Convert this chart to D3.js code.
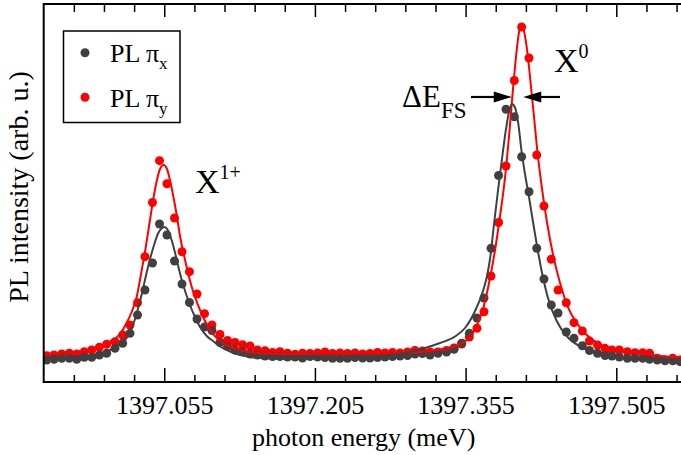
<!DOCTYPE html>
<html>
<head>
<meta charset="utf-8">
<script src="https://cdn.jsdelivr.net/npm/d3@7"></script>
<style>
  html, body { margin: 0; padding: 0; background: #fff; }
  svg { display: block; font-family: "Liberation Serif", "Times New Roman", serif; }
</style>
</head>
<body>
<svg id="chart" width="681" height="455"></svg>
<script>
// Photon energy of each spectrometer channel (meV)
const energy = [
  1396.9380, 1396.9453, 1396.9529, 1396.9605, 1396.9679, 1396.9754, 1396.9828, 1396.9904, 1396.9977, 1397.0060,
  1397.0136, 1397.0209, 1397.0284, 1397.0358, 1397.0433, 1397.0503, 1397.0577, 1397.0652, 1397.0727, 1397.0801,
  1397.0876, 1397.0951, 1397.1025, 1397.1105, 1397.1180, 1397.1254, 1397.1329, 1397.1404, 1397.1478, 1397.1553,
  1397.1628, 1397.1702, 1397.1777, 1397.1852, 1397.1926, 1397.2001, 1397.2076, 1397.2150, 1397.2225, 1397.2300,
  1397.2374, 1397.2449, 1397.2524, 1397.2598, 1397.2673, 1397.2748, 1397.2822, 1397.2897, 1397.2972, 1397.3046,
  1397.3121, 1397.3196, 1397.3275, 1397.3360, 1397.3435, 1397.3511, 1397.3587, 1397.3663, 1397.3733, 1397.3803,
  1397.3878, 1397.3952, 1397.4035, 1397.4108, 1397.4181, 1397.4258, 1397.4330, 1397.4403, 1397.4470, 1397.4552,
  1397.4629, 1397.4712, 1397.4783, 1397.4863, 1397.4938, 1397.5007, 1397.5080, 1397.5160, 1397.5236, 1397.5313,
  1397.5381, 1397.5458, 1397.5535, 1397.5612, 1397.5684
];

// PL intensity, pi_x polarisation (arb. u.)
const intensityPiX = [
  7.33, 7.57, 7.90, 7.90, 7.57, 8.23, 8.23, 9.00, 9.57, 11.23,
  12.90, 16.23, 22.33, 30.67, 39.67, 52.67, 49.00, 40.33, 32.67, 26.50,
  21.00, 18.33, 17.17, 13.17, 11.77, 10.67, 10.17, 9.33, 9.00, 8.67,
  8.50, 8.50, 8.33, 8.33, 8.00, 8.50, 8.33, 8.17, 7.90, 7.90,
  7.90, 8.17, 8.00, 8.00, 8.17, 8.33, 8.50, 8.67, 8.83, 9.33,
  9.50, 9.00, 9.57, 10.00, 10.90, 12.90, 16.23, 21.33, 28.00, 44.57,
  68.83, 90.90, 88.43, 75.10, 63.43, 44.57, 34.33, 25.67, 23.00, 16.67,
  14.57, 12.07, 10.50, 9.57, 8.83, 8.67, 8.33, 7.90, 7.90, 7.90,
  7.57, 7.33, 7.10, 7.10, 6.77
];

// PL intensity, pi_y polarisation (arb. u.)
const intensityPiY = [
  8.77, 9.00, 9.33, 9.57, 9.33, 10.10, 10.67, 11.57, 12.57, 13.43,
  15.67, 19.00, 26.43, 41.77, 59.83, 73.77, 66.10, 54.67, 43.43, 36.77,
  29.33, 22.77, 19.00, 15.83, 13.83, 13.17, 12.43, 12.00, 10.67, 10.43,
  9.83, 10.10, 9.57, 9.23, 9.57, 9.50, 9.67, 10.00, 9.50, 9.67,
  9.50, 9.67, 9.33, 9.50, 9.83, 9.67, 9.83, 9.67, 10.00, 10.50,
  10.33, 10.00, 10.00, 10.50, 11.33, 12.67, 15.00, 17.90, 23.43, 35.33,
  53.17, 72.00, 100.50, 118.33, 108.00, 75.67, 58.67, 40.90, 30.67, 26.43,
  19.77, 17.00, 13.67, 12.33, 11.23, 10.67, 10.67, 10.10, 9.77, 9.77,
  9.57, 7.90, 7.33, 7.90, 7.33
];

// Fitted line shape, pi_x
const fitPiXEnergy = [
  1396.9350, 1396.9612, 1396.9861, 1397.0010, 1397.0110, 1397.0189, 1397.0239, 1397.0276, 1397.0319, 1397.0358,
  1397.0393, 1397.0425, 1397.0458, 1397.0491, 1397.0523, 1397.0553, 1397.0582, 1397.0617, 1397.0652, 1397.0690,
  1397.0727, 1397.0767, 1397.0806, 1397.0856, 1397.0906, 1397.0973, 1397.1035, 1397.1105, 1397.1205, 1397.1304,
  1397.1503, 1397.1802, 1397.2200, 1397.2598, 1397.2897, 1397.3096, 1397.3295, 1397.3445, 1397.3544, 1397.3644,
  1397.3723, 1397.3763, 1397.3793, 1397.3833, 1397.3873, 1397.3912, 1397.3952, 1397.3982, 1397.4012, 1397.4042,
  1397.4072, 1397.4108, 1397.4141, 1397.4181, 1397.4221, 1397.4261, 1397.4311, 1397.4370, 1397.4457, 1397.4556,
  1397.4689, 1397.4858, 1397.5057, 1397.5386, 1397.5714
];
const fitPiXIntensity = [
  7.83, 8.17, 9.00, 10.67, 12.50, 15.33, 19.00, 22.90, 28.33, 34.00,
  39.00, 43.00, 46.67, 49.67, 51.17, 51.67, 50.83, 48.00, 43.83, 38.50,
  33.67, 29.33, 25.67, 21.67, 18.33, 15.33, 13.67, 11.83, 10.17, 9.00,
  8.00, 7.67, 7.83, 8.33, 9.33, 10.83, 13.00, 15.17, 18.00, 23.67,
  30.33, 35.33, 41.00, 52.67, 64.00, 74.33, 84.33, 90.00, 92.67, 91.50,
  86.67, 76.67, 69.33, 61.67, 53.33, 45.33, 36.33, 28.00, 20.33, 15.33,
  11.83, 9.67, 8.33, 7.57, 7.17
];

// Fitted line shape, pi_y
const fitPiYEnergy = [
  1396.9350, 1396.9612, 1396.9861, 1397.0010, 1397.0110, 1397.0159, 1397.0226, 1397.0276, 1397.0326, 1397.0358,
  1397.0408, 1397.0441, 1397.0475, 1397.0508, 1397.0543, 1397.0577, 1397.0607, 1397.0634, 1397.0674, 1397.0707,
  1397.0757, 1397.0823, 1397.0906, 1397.1006, 1397.1138, 1397.1304, 1397.1473, 1397.1802, 1397.2200, 1397.2698,
  1397.3096, 1397.3295, 1397.3445, 1397.3561, 1397.3644, 1397.3726, 1397.3793, 1397.3843, 1397.3893, 1397.3942,
  1397.3985, 1397.4025, 1397.4059, 1397.4082, 1397.4108, 1397.4131, 1397.4158, 1397.4181, 1397.4208, 1397.4231,
  1397.4261, 1397.4308, 1397.4363, 1397.4423, 1397.4490, 1397.4572, 1397.4656, 1397.4756, 1397.4888, 1397.5054,
  1397.5253, 1397.5485, 1397.5714
];
const fitPiYIntensity = [
  9.33, 9.83, 11.33, 13.50, 16.00, 18.67, 23.33, 28.43, 37.33, 43.33,
  54.00, 61.00, 67.00, 71.00, 72.33, 71.00, 67.33, 63.00, 55.67, 48.67,
  40.67, 31.77, 24.00, 17.33, 12.90, 10.67, 9.67, 9.33, 9.50, 9.50,
  10.00, 10.83, 12.00, 14.00, 17.67, 24.67, 34.67, 44.00, 55.33, 68.00,
  83.00, 99.00, 110.67, 116.67, 119.00, 117.00, 111.67, 105.00, 96.00, 88.33,
  78.00, 65.00, 52.67, 42.00, 33.00, 24.67, 19.67, 15.67, 12.50, 10.67,
  9.57, 8.67, 8.17
];

// Peak energies of the neutral exciton in the two polarisations (from the fits)
const x0PeakEnergy = [1397.4012, 1397.4108];

// Axis ticks
const majorTicks = [1397.055, 1397.205, 1397.355, 1397.505];
const majorTickLabels = ["1397.055", "1397.205", "1397.355", "1397.505"];
const minorTicks = [1396.965, 1396.995, 1397.025, 1397.085, 1397.115, 1397.145, 1397.175,
                    1397.235, 1397.265, 1397.295, 1397.325, 1397.385, 1397.415, 1397.445,
                    1397.475, 1397.535, 1397.565];

const series = [
  { sub: "x", values: intensityPiX, fitE: fitPiXEnergy, fitI: fitPiXIntensity, color: "#404040" },
  { sub: "y", values: intensityPiY, fitE: fitPiYEnergy, fitI: fitPiYIntensity, color: "#ff0000" }
];

const svg = d3.select("#chart");
const plotLeft = 43.7, plotRight = 683.6, plotTop = 4, plotBottom = 382;

const x = d3.scaleLinear().domain([1396.935, 1397.572]).range([plotLeft, plotRight]);
const y = d3.scaleLinear().domain([0, 126]).range([plotBottom, plotTop]);

// clip for the data area
svg.append("defs").append("clipPath").attr("id", "plotClip")
  .append("rect").attr("x", plotLeft).attr("y", plotTop)
  .attr("width", plotRight - plotLeft).attr("height", plotBottom - plotTop);

const plot = svg.append("g").attr("clip-path", "url(#plotClip)");

// data points: pi_y first so pi_x sits on top
[series[1], series[0]].forEach(s => {
  plot.append("g").selectAll("circle")
    .data(s.values.map((v, i) => [energy[i], v]))
    .join("circle")
    .attr("cx", d => x(d[0]))
    .attr("cy", d => y(d[1]))
    .attr("r", 4.5)
    .attr("fill", s.color);
});

// fitted curves
const line = d3.line().x(d => x(d[0])).y(d => y(d[1])).curve(d3.curveMonotoneX);
[series[1], series[0]].forEach(s => {
  plot.append("path")
    .datum(s.fitE.map((e, i) => [e, s.fitI[i]]))
    .attr("d", line)
    .attr("fill", "none")
    .attr("stroke", s.color)
    .attr("stroke-width", 2);
});

// axes: inward ticks on bottom and top
function styleAxis(g) {
  g.select(".domain").remove();
  g.selectAll(".tick line").attr("stroke", "#000").attr("stroke-width", 1.5);
}
svg.append("g").attr("transform", `translate(0,${plotBottom})`)
  .call(d3.axisBottom(x).tickValues(majorTicks).tickFormat((d, i) => majorTickLabels[i])
        .tickSizeInner(-14).tickSizeOuter(0).tickPadding(14))
  .call(styleAxis)
  .call(g => g.selectAll(".tick text")
    .attr("font-family", "Liberation Serif, Times New Roman, serif")
    .attr("font-size", 26).attr("fill", "#000"));
svg.append("g").attr("transform", `translate(0,${plotBottom})`)
  .call(d3.axisBottom(x).tickValues(minorTicks).tickFormat("").tickSizeInner(-7).tickSizeOuter(0))
  .call(styleAxis);
svg.append("g").attr("transform", `translate(0,${plotTop})`)
  .call(d3.axisTop(x).tickValues(majorTicks).tickFormat("").tickSizeInner(-13).tickSizeOuter(0))
  .call(styleAxis);
svg.append("g").attr("transform", `translate(0,${plotTop})`)
  .call(d3.axisTop(x).tickValues(minorTicks).tickFormat("").tickSizeInner(-8).tickSizeOuter(0))
  .call(styleAxis);

// frame
svg.append("rect")
  .attr("x", plotLeft).attr("y", plotTop)
  .attr("width", plotRight - plotLeft).attr("height", plotBottom - plotTop)
  .attr("fill", "none").attr("stroke", "#000").attr("stroke-width", 2);

// axis titles
svg.append("text")
  .attr("x", (plotLeft + plotRight) / 2).attr("y", 446)
  .attr("text-anchor", "middle").attr("font-size", 26)
  .text("photon energy (meV)");
svg.append("text")
  .attr("transform", "translate(28,187) rotate(-90)")
  .attr("text-anchor", "middle").attr("font-size", 28)
  .text("PL intensity (arb. u.)");

// peak labels
const lbl1 = svg.append("text").attr("x", 195).attr("y", 193).attr("font-size", 34);
lbl1.append("tspan").text("X");
lbl1.append("tspan").attr("font-size", 20).attr("dy", -14).text("1+");

const lbl0 = svg.append("text").attr("x", 554).attr("y", 72).attr("font-size", 34);
lbl0.append("tspan").text("X");
lbl0.append("tspan").attr("font-size", 20).attr("dy", -14).text("0");

const lblFs = svg.append("text").attr("x", 402).attr("y", 107).attr("font-size", 31);
lblFs.append("tspan").text("\u0394E");
lblFs.append("tspan").attr("font-size", 23).attr("dy", 11).text("FS");

// fine-structure splitting arrows pointing at the two X0 maxima
const arrowY = y(95);
const tipL = x(x0PeakEnergy[0]) - 0.3, tipR = x(x0PeakEnergy[1]) + 1.6;
const arrows = svg.append("g");
arrows.append("line").attr("x1", 471).attr("x2", tipL - 14).attr("y1", arrowY).attr("y2", arrowY)
  .attr("stroke", "#000").attr("stroke-width", 2.2);
arrows.append("path")
  .attr("d", `M${tipL},${arrowY} L${tipL - 18},${arrowY - 5.5} L${tipL - 18},${arrowY + 5.5} Z`)
  .attr("fill", "#000");
arrows.append("line").attr("x1", tipR + 14).attr("x2", 560).attr("y1", arrowY).attr("y2", arrowY)
  .attr("stroke", "#000").attr("stroke-width", 2.2);
arrows.append("path")
  .attr("d", `M${tipR},${arrowY} L${tipR + 18},${arrowY - 5.5} L${tipR + 18},${arrowY + 5.5} Z`)
  .attr("fill", "#000");

// legend
const legend = svg.append("g");
legend.append("rect").attr("x", 63.5).attr("y", 31).attr("width", 116.5).attr("height", 91.5)
  .attr("fill", "#fff").attr("stroke", "#000").attr("stroke-width", 1.5);
series.forEach((s, i) => {
  const cy = 52.7 + i * 44.6;
  legend.append("circle").attr("cx", 85).attr("cy", cy).attr("r", 4.5).attr("fill", s.color);
  const t = legend.append("text").attr("x", 110).attr("y", cy + 9.6).attr("font-size", 26);
  t.append("tspan").text("PL \u03c0");
  t.append("tspan").attr("font-size", 17).attr("dy", 7).text(s.sub);
});
</script>
</body>
</html>
